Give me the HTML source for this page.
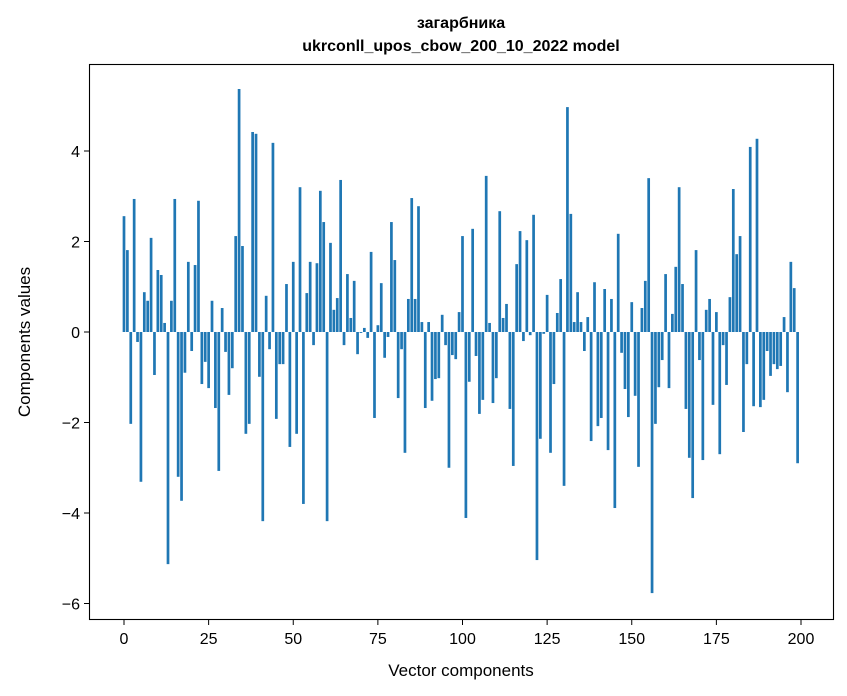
<!DOCTYPE html>
<html><head><meta charset="utf-8"><style>
body{margin:0;background:#fff;}
svg{font-family:"Liberation Sans","DejaVu Sans",sans-serif;display:block}
</style></head><body>
<svg width="847" height="696" viewBox="0 0 847 696" xmlns="http://www.w3.org/2000/svg">
<rect width="847" height="696" fill="#fff"/>
<text x="461" y="28" text-anchor="middle" font-size="16" font-weight="bold">загарбника</text>
<text x="461" y="51" text-anchor="middle" font-size="16" font-weight="bold">ukrconll_upos_cbow_200_10_2022 model</text>
<g id="bars"></g>
<g id="xticks"></g>
<g id="yticks"></g>
<rect x="89.5" y="64.5" width="744" height="555" fill="none" stroke="#000" stroke-width="1.1"/>
<text x="461" y="676" text-anchor="middle" font-size="17">Vector components</text>
<text transform="translate(30,342) rotate(-90)" text-anchor="middle" font-size="17">Components values</text>
</svg>
<script>
const values = [2.56,1.81,-2.03,2.94,-0.22,-3.31,0.88,0.69,2.08,-0.95,1.37,1.26,0.2,-5.13,0.69,2.94,-3.2,-3.73,-0.9,1.55,-0.42,1.48,2.9,-1.15,-0.66,-1.24,0.69,-1.68,-3.07,0.53,-0.44,-1.39,-0.8,2.12,5.37,1.9,-2.25,-2.03,4.42,4.38,-0.99,-4.18,0.8,-0.38,4.18,-1.92,-0.71,-0.71,1.06,-2.54,1.55,-2.25,3.2,-3.8,0.86,1.55,-0.29,1.52,3.12,2.43,-4.18,1.97,0.49,0.75,3.36,-0.29,1.28,0.31,1.13,-0.49,-0.02,0.09,-0.13,1.77,-1.9,0.15,1.08,-0.57,-0.11,2.43,1.59,-1.46,-0.38,-2.67,0.73,2.96,0.73,2.78,0.22,-1.68,0.22,-1.52,-1.04,-1.02,0.38,-0.29,-3.0,-0.51,-0.6,0.44,2.12,-4.11,-1.1,2.28,-0.53,-1.81,-1.5,3.45,0.2,-1.57,-1.02,2.67,0.31,0.62,-1.7,-2.96,1.5,2.23,-0.2,2.03,-0.07,2.59,-5.04,-2.36,-0.04,0.82,-2.67,-1.15,0.42,1.17,-3.4,4.97,2.61,0.22,0.88,0.22,-0.42,0.33,-2.41,1.1,-2.08,-1.9,0.95,-2.61,0.73,-3.89,2.17,-0.46,-1.26,-1.88,0.66,-1.41,-2.98,0.53,1.13,3.4,-5.77,-2.03,-1.22,-0.62,1.28,-1.24,0.4,1.44,3.2,1.06,-1.7,-2.78,-3.67,1.81,-0.62,-2.83,0.49,0.73,-1.61,0.44,-2.7,-0.29,-1.17,0.77,3.16,1.72,2.12,-2.21,-0.71,4.09,-1.64,4.27,-1.66,-1.5,-0.42,-0.97,-0.71,-0.82,-0.75,0.33,-1.33,1.55,0.97,-2.9];
const xTickLabels = ["0","25","50","75","100","125","150","175","200"];
const xTickValues = [0,25,50,75,100,125,150,175,200];
const yTickLabels = ["\u22126","\u22124","\u22122","0","2","4"];
const yTickValues = [-6,-4,-2,0,2,4];
const NS="http://www.w3.org/2000/svg";
function xs(v){return 124+v*3.385;}
function ys(v){return 332-v*45.25;}
const bars=document.getElementById('bars');
values.forEach((v,i)=>{
  const r=document.createElementNS(NS,'rect');
  const y0=ys(0), y1=ys(v);
  r.setAttribute('x',xs(i-0.4));
  r.setAttribute('width',3.385*0.8);
  r.setAttribute('y',Math.min(y0,y1));
  r.setAttribute('height',Math.abs(y1-y0));
  r.setAttribute('fill','#1f77b4');
  
  
  bars.appendChild(r);
});
const xg=document.getElementById('xticks');
xTickValues.forEach((v,i)=>{
  const x=xs(v);
  const l=document.createElementNS(NS,'line');
  l.setAttribute('x1',x);l.setAttribute('x2',x);l.setAttribute('y1',620);l.setAttribute('y2',625);l.setAttribute('stroke','#000');
  
  
  xg.appendChild(l);
  const t=document.createElementNS(NS,'text');
  t.setAttribute('x',x);t.setAttribute('y',644);t.setAttribute('text-anchor','middle');t.setAttribute('font-size','16');
  t.textContent=xTickLabels[i];
  
  
  xg.appendChild(t);
});
const yg=document.getElementById('yticks');
yTickValues.forEach((v,i)=>{
  const y=ys(v);
  const l=document.createElementNS(NS,'line');
  l.setAttribute('x1',84);l.setAttribute('x2',89);l.setAttribute('y1',y);l.setAttribute('y2',y);l.setAttribute('stroke','#000');
  
  
  yg.appendChild(l);
  const t=document.createElementNS(NS,'text');
  t.setAttribute('x',80);t.setAttribute('y',y+6);t.setAttribute('text-anchor','end');t.setAttribute('font-size','16');
  t.textContent=yTickLabels[i];
  
  
  yg.appendChild(t);
});
</script>
</body></html>
